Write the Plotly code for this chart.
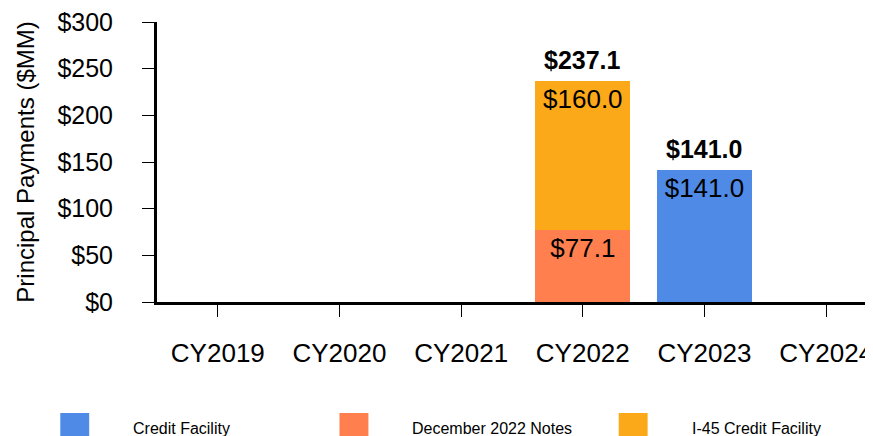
import plotly.graph_objects as go

years = ["CY2019", "CY2020", "CY2021", "CY2022", "CY2023", "CY2024"]
credit_facility = [None, None, None, None, 141.0, None]
dec_2022_notes = [None, None, None, 77.1, None, None]
i45_facility = [None, None, None, 160.0, None, None]

series = [
    ("Credit Facility", credit_facility, "#4f8be6"),
    ("December 2022 Notes", dec_2022_notes, "#ff7f4f"),
    ("I-45 Credit Facility", i45_facility, "#fba918"),
]

FONT = "Arial, Liberation Sans, sans-serif"
OFF = 8  # page body margin
W, H = 873 - OFF, 436 - OFF
ML, MR, MT, MB = 157 - OFF, 0, 22 - OFF, H - (302 - OFF)

fig = go.Figure()
for name, vals, color in series:
    fig.add_trace(go.Bar(
        x=years, y=vals, name=name, marker=dict(color=color, line=dict(width=0)),
        texttemplate="$%{y:.1f}", textposition="inside", insidetextanchor="end",
        textangle=0, textfont=dict(size=26, color="black", family=FONT),
        showlegend=False, width=0.78,
    ))

# bold totals on top of each stack
for i, yr in enumerate(years):
    total = sum(v[i] or 0 for _, v, _ in series)
    if total > 0:
        fig.add_annotation(x=yr, y=total, text=f"<b>${total:.1f}</b>", showarrow=False,
                           yanchor="bottom", yshift=5,
                           font=dict(size=25, color="black", family=FONT))

# legend drawn below the plot (page pixel -> paper helpers)
pw, ph = W - ML - MR, H - MT - MB
px = lambda x: (x - OFF - ML) / pw
py = lambda y: (H - MB - (y - OFF)) / ph
for k, (name, _, color) in enumerate(series):
    x0 = 60 + 280 * k
    fig.add_shape(type="rect", xref="paper", yref="paper", x0=px(x0), x1=px(x0 + 29),
                  y0=py(436), y1=py(413), fillcolor=color, line=dict(width=0))
    fig.add_annotation(xref="paper", yref="paper", x=px(x0 + 71), y=py(428), text=name,
                       showarrow=False, xanchor="left", yanchor="middle",
                       font=dict(size=16, color="black", family=FONT))

fig.update_layout(
    width=W, height=H, barmode="stack",
    margin=dict(l=ML, r=MR, t=MT, b=MB),
    plot_bgcolor="white", paper_bgcolor="white",
    font=dict(family=FONT, color="black"),
    xaxis=dict(range=[-0.5, -0.5 + pw / 122], showline=True, linecolor="black", linewidth=3,
               ticks="outside", ticklen=12, tickwidth=1, tickcolor="black",
               tickfont=dict(size=26), ticklabelstandoff=14, showgrid=False, fixedrange=True),
    yaxis=dict(range=[0, 300], dtick=50, tickprefix="$", showline=True, linecolor="black",
               linewidth=3, ticks="outside", ticklen=12, tickwidth=1, tickcolor="black",
               tickfont=dict(size=25), ticklabelstandoff=24, ticklabeloverflow="allow",
               showgrid=False, zeroline=False,
               title=dict(text="Principal Payments ($MM)", font=dict(size=24), standoff=16)),
)

fig.write_html("out.html")
